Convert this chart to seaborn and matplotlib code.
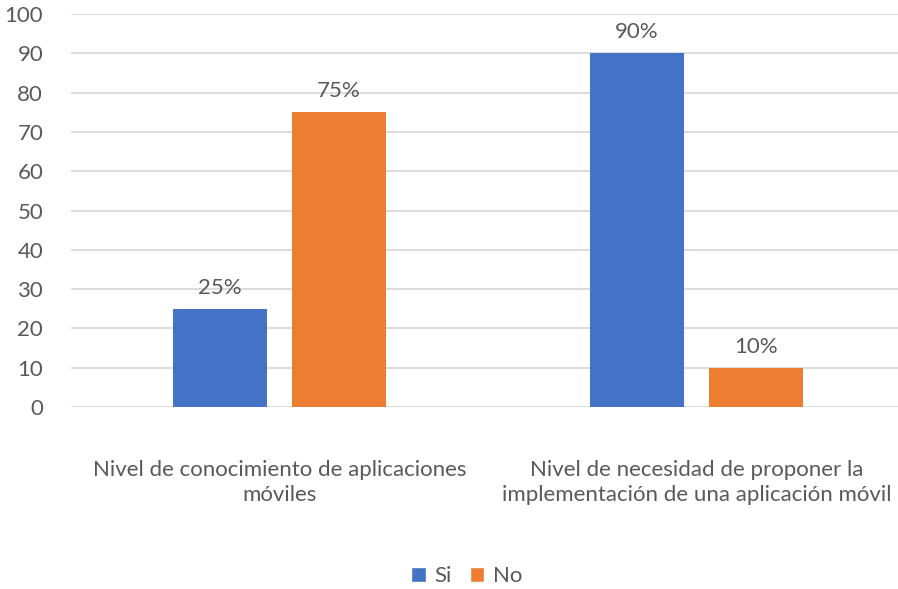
import matplotlib
matplotlib.use("Agg")
import matplotlib.pyplot as plt
import seaborn as sns
import pandas as pd
from matplotlib.patches import Patch

categories = [
    "Nivel de conocimiento de aplicaciones\nmóviles",
    "Nivel de necesidad de proponer la\nimplementación de una aplicación móvil",
]
series = ["Si", "No"]
si_values = [25, 90]
no_values = [75, 10]
y_ticks = [0, 10, 20, 30, 40, 50, 60, 70, 80, 90, 100]

colors = {"Si": "#4472C4", "No": "#ED7D31"}
text_color = "#595959"
grid_color = "#D9D9D9"

df = pd.DataFrame({
    "categoria": categories * 2,
    "serie": ["Si"] * len(categories) + ["No"] * len(categories),
    "valor": si_values + no_values,
})

sns.set_theme(style="white")
plt.rcParams["font.family"] = ["Lato", "DejaVu Sans"]

fig = plt.figure(figsize=(8.98, 5.89), dpi=100)
ax = fig.add_axes([0.079, 0.309, 0.929, 0.667])

sns.barplot(
    data=df, x="categoria", y="valor", hue="serie", hue_order=series,
    order=categories, palette=colors, width=0.571, gap=0.21,
    saturation=1, ax=ax, legend=False, errorbar=None, linewidth=0,
)

ax.set_ylim(0, 100)
ax.set_xlim(-0.5, 1.5)
ax.set_yticks(y_ticks)
ax.yaxis.grid(True, color=grid_color, linewidth=1.3)
ax.set_axisbelow(True)
for s in ax.spines.values():
    s.set_visible(False)
ax.set_xlabel("")
ax.set_ylabel("")
ax.tick_params(axis="y", length=0, pad=20, labelsize=16, labelcolor=text_color)
ax.tick_params(axis="x", length=0, pad=38, labelsize=16, labelcolor=text_color)
for lbl in ax.get_xticklabels():
    lbl.set_linespacing(1.3)

for container in ax.containers:
    ax.bar_label(container, labels=[f"{v:.0f}%" for v in container.datavalues],
                 padding=8, fontsize=16, color=text_color)

handles = [Patch(facecolor=colors[s], label=s) for s in series]
fig.legend(handles=handles, loc="center", bbox_to_anchor=(0.52, 0.022),
           ncol=2, frameon=False, fontsize=16, handlelength=0.65, handleheight=0.65,
           handletextpad=0.4, columnspacing=0.8, labelcolor=text_color)

fig.savefig("out.png", dpi=100)
